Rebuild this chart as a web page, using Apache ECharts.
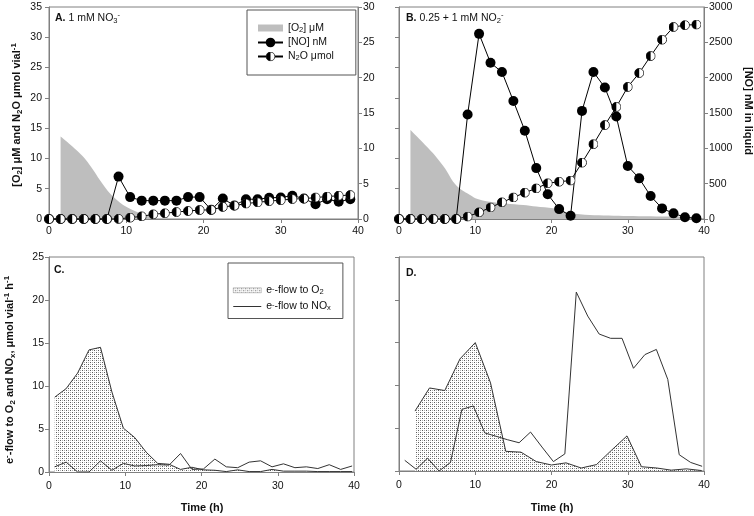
<!DOCTYPE html>
<html><head><meta charset="utf-8">
<script src="https://cdn.jsdelivr.net/npm/echarts@6/dist/echarts.min.js"></script>
<style>html,body{margin:0;padding:0;background:#fff}#c{width:754px;height:516px}</style>
</head><body><div id="c"></div>
<script>
// ---------- DATA ----------
// Panels A & B: sampling times (h)
const tAB = [0,1.5,3,4.5,6,7.5,9,10.5,12,13.5,15,16.5,18,19.5,21,22.5,24,25.5,27,28.5,30,31.5,33,34.5,36,37.5,39];
// Panel A
const A_O2_t = [1.5,3.0,4.4,5.5,6.6,7.9,9.6,11.8,13.1,14.4,16,40];
const A_O2   = [13.6,12.0,10.3,8.5,6.4,4.2,2.3,0.93,0.38,0.1,0.02,0];
const A_NO   = [0,0,0,0,0,0,6.0,3.1,2.6,2.6,2.6,2.6,3.1,3.1,1.3,2.9,1.9,2.8,2.8,3.0,3.05,3.3,2.9,2.1,2.8,2.45,2.8];
const A_N2O  = [0,0,0,0,0,0,0.02,0.22,0.44,0.77,0.95,1.15,1.32,1.48,1.5,2.0,2.2,2.55,2.75,2.95,3.1,3.3,3.35,3.55,3.7,3.85,3.95];
// Panel B
const B_O2_t = [1.5,3.0,4.5,6.0,7.1,8.0,9.0,10.1,11.9,14,16.3,18,20.2,21.5,22.4,25.0,30,36,39.5];
const B_O2   = [14.7,12.8,10.8,8.4,6.15,5.0,4.2,3.4,2.86,2.55,2.3,2.05,1.76,1.3,0.93,0.66,0.5,0.4,0.3];
const B_NO   = [0,0,0,0,0,0,1480,2620,2210,2080,1670,1250,720,350,140,45,1530,2080,1860,1450,750,575,325,150,80,25,10];
const B_N2O  = [0,0,0,0,0,0,0.4,1.1,1.9,2.75,3.55,4.35,5.05,5.9,6.15,6.35,9.3,12.35,15.5,18.5,21.8,24.1,26.9,29.6,31.7,32.0,32.1];
// Panel C
const C_t   = [0.75,2.25,3.75,5.25,6.75,8.25,9.75,11.25,12.75,14.25,15.75,17.25,18.75,20.25,21.75,23.25,24.75,26.25,27.75,29.25,30.75,32.25,33.75,35.25,36.75,38.25,39.75];
const C_O2  = [8.7,9.7,11.5,14.2,14.5,9.3,5.1,4.0,2.3,1.0,0.9,0.3,0.55,0.25,0.2,0.05,0.25,0.05,0.05,0.3,0.1,0.1,0.1,0.05,0.05,0.05,0.05];
const C_NOx = [0.6,1.15,0,0,1.3,0.2,1.0,0.7,0.75,0.85,0.8,2.15,0.3,0.35,1.5,0.6,0.5,1.15,1.3,0.6,0.95,0.5,0.6,0.4,0.85,0.3,0.7];
// Panel D
const D_O2_t = [2.1,4.0,6.0,8.0,10.0,12.0,14.0,16.0,18.0,20.0,21.9,23.9,25.9,27.9,29.9,31.8,33.8,35.7,37.7,39.7];
const D_O2   = [7.0,9.7,9.4,13.1,15.0,10.3,2.3,2.2,1.1,0.7,0.95,0.35,0.75,2.45,4.1,0.5,0.35,0.1,0.25,0.05];
const D_NOx_t = [0.75,2.25,3.75,5.25,6.75,8.25,9.75,11.25,12.75,14.25,15.75,17.25,18.75,20.25,21.75,23.25,24.75,26.25,27.75,29.25,30.75,32.25,33.75,35.25,36.75,38.25,39.75];
const D_NOx   = [1.25,0.2,1.5,0,1.0,7.2,7.6,4.45,4.05,3.65,3.3,4.55,2.8,1.1,2.0,20.9,18.1,16.0,15.5,15.5,12.0,13.6,14.2,10.7,1.9,1.0,0.55];
// Tick settings
const xTicks = {min:0, max:40, interval:10};
const yLeftAB = {min:0, max:35, interval:5};
const yRightA = {min:0, max:30, interval:5};
const yRightB = {min:0, max:3000, interval:500};
const yCD = {min:0, max:25, interval:5};

// ---------- HELPERS ----------
const FONT = "'Liberation Sans', Arial, sans-serif";
const pairs = (xs, ys) => xs.map((x, i) => [x, ys[i]]);
const AX = '#808080';
const TXT = '#111';

function richSet(size, weight) {
  const s = size * 0.72;
  return {
    n:   {fontSize: size, fontFamily: FONT, fontWeight: weight, lineHeight: 14, color: TXT},
    b:   {fontSize: size, fontFamily: FONT, fontWeight: 'bold', lineHeight: 14, color: TXT},
    sub: {fontSize: s, fontFamily: FONT, fontWeight: weight, lineHeight: 9, verticalAlign: 'bottom', color: TXT},
    sup: {fontSize: s, fontFamily: FONT, fontWeight: weight, lineHeight: 9, verticalAlign: 'top', color: TXT}
  };
}

const halfSvg = "<svg xmlns='http://www.w3.org/2000/svg' width='24' height='24' viewBox='0 0 24 24'>" +
  "<circle cx='12' cy='12' r='11' fill='#fff' stroke='#000' stroke-width='1.8'/>" +
  "<path d='M12 1 A11 11 0 0 0 12 23 Z' fill='#000'/></svg>";
const halfSym = 'image://data:image/svg+xml;charset=utf-8,' + encodeURIComponent(halfSvg);

// dotted (stipple) pattern
const pc = document.createElement('canvas');
pc.width = 4; pc.height = 4;
const pctx = pc.getContext('2d');
pctx.fillStyle = '#fff'; pctx.fillRect(0, 0, 4, 4);
pctx.fillStyle = '#5a5a5a';
pctx.fillRect(0, 0, 1, 1); pctx.fillRect(2, 2, 1, 1);
pctx.fillStyle = '#b0b0b0';
pctx.fillRect(2, 0, 1, 1); pctx.fillRect(0, 2, 1, 1);
const dotted = {image: pc, repeat: 'repeat'};

function xAxisCfg(grid, margin) {
  return Object.assign({type: 'value', gridIndex: grid, position: 'bottom',
    axisLine: {show: true, lineStyle: {color: AX, width: 1}},
    axisTick: {show: true, inside: false, length: 4, lineStyle: {color: AX}},
    axisLabel: {show: true, margin: margin, fontSize: 10.5, fontFamily: FONT, color: TXT},
    splitLine: {show: false}}, xTicks);
}
function yAxisCfg(grid, ticks, pos, showLabel, margin) {
  return Object.assign({type: 'value', gridIndex: grid, position: pos,
    axisLine: {show: true, onZero: false, lineStyle: {color: AX, width: 1}},
    axisTick: {show: true, inside: false, length: 4, lineStyle: {color: AX}},
    axisLabel: {show: showLabel, margin: margin, fontSize: 10.5, fontFamily: FONT, color: TXT,
      formatter: v => String(v)},
    splitLine: {show: false}}, ticks);
}

const gridBase = {show: true, borderColor: AX, borderWidth: 1, backgroundColor: 'transparent'};

const legendRich = richSet(10.5, 'normal');
const legendNames = {
  O2A: '[O{sub|2}] μM',
  NOA: '[NO] nM',
  N2OA: 'N{sub|2}O μmol',
  O2C: 'e{sup|-}-flow to O{sub|2}',
  NOxC: 'e{sup|-}-flow to NO{sub|x}'
};

function txt(x, y, text, rot, size, weight, align) {
  return {type: 'text', x: x, y: y, rotation: rot || 0, silent: true,
    style: {text: text, fontSize: size, fontFamily: FONT, fontWeight: weight, fill: TXT,
      lineHeight: 14, align: align || 'center', verticalAlign: 'middle',
      textAlign: align || 'center', textVerticalAlign: 'middle',
      rich: richSet(size, weight)}};
}

const option = {
  animation: false,
  backgroundColor: '#fff',
  grid: [
    Object.assign({left: 49, top: 7, width: 309, height: 212}, gridBase),
    Object.assign({left: 399, top: 7, width: 305, height: 212}, gridBase),
    Object.assign({left: 49, top: 257, width: 305, height: 215}, gridBase),
    Object.assign({left: 399, top: 257, width: 305, height: 214}, gridBase)
  ],
  xAxis: [xAxisCfg(0, 7), xAxisCfg(1, 7), xAxisCfg(2, 9), xAxisCfg(3, 9)],
  yAxis: [
    yAxisCfg(0, yLeftAB, 'left', true, 7),
    yAxisCfg(0, yRightA, 'right', true, 5),
    yAxisCfg(1, yLeftAB, 'left', false, 7),
    yAxisCfg(1, yRightB, 'right', true, 5),
    yAxisCfg(2, yCD, 'left', true, 5),
    yAxisCfg(3, yCD, 'left', false, 5)
  ],
  legend: [
    {data: [{name: 'O2A', icon: 'path://M0,0 M0,2.5 L25,2.5 L25,9.5 L0,9.5 Z M25,12', itemStyle: {color: '#bebebe', borderWidth: 0}}, 'NOA', 'N2OA'],
     orient: 'vertical', left: 247, top: 10, itemWidth: 25, itemHeight: 12, itemGap: 3,
     padding: [12, 22, 13, 10], borderColor: '#555', borderWidth: 1, backgroundColor: '#fff',
     selectedMode: false, formatter: n => legendNames[n],
     textStyle: {fontSize: 10.5, fontFamily: FONT, color: TXT, rich: legendRich}},
    {data: [{name: 'O2C', icon: 'path://M0,0 M0,3.5 L28,3.5 L28,8.5 L0,8.5 Z M28,12', itemStyle: {color: dotted, borderColor: '#999', borderWidth: 0.5}},
            {name: 'NOxC', icon: 'path://M0,0 M0,5.5 L28,5.5 L28,6.5 L0,6.5 Z M28,12', itemStyle: {color: '#333', borderWidth: 0}}],
     orient: 'vertical', left: 228, top: 263, itemWidth: 28, itemHeight: 12, itemGap: 4,
     padding: [21, 12, 6, 5], borderColor: '#555', borderWidth: 1, backgroundColor: '#fff',
     selectedMode: false, formatter: n => legendNames[n],
     textStyle: {fontSize: 10.5, fontFamily: FONT, color: TXT, rich: legendRich}}
  ],
  series: [
    // Panel A
    {name: 'O2A', type: 'line', xAxisIndex: 0, yAxisIndex: 0, data: pairs(A_O2_t, A_O2),
     smooth: 0.3, symbol: 'none', color: '#bebebe',
     lineStyle: {width: 0, color: '#bebebe'}, areaStyle: {color: '#bebebe', opacity: 1}, z: 1},
    {name: 'NOA', type: 'line', xAxisIndex: 0, yAxisIndex: 1, data: pairs(tAB, A_NO),
     symbol: 'circle', symbolSize: 10, showAllSymbol: true, clip: false, color: '#000',
     itemStyle: {color: '#000'}, lineStyle: {color: '#000', width: 1}, z: 3},
    {name: 'N2OA', type: 'line', xAxisIndex: 0, yAxisIndex: 0, data: pairs(tAB, A_N2O),
     symbol: halfSym, symbolSize: 10, showAllSymbol: true, clip: false, color: '#000',
     itemStyle: {color: '#000'}, lineStyle: {color: '#000', width: 1}, z: 4},
    // Panel B
    {name: 'O2B', type: 'line', xAxisIndex: 1, yAxisIndex: 2, data: pairs(B_O2_t, B_O2),
     smooth: 0.3, symbol: 'none', color: '#bebebe',
     lineStyle: {width: 0, color: '#bebebe'}, areaStyle: {color: '#bebebe', opacity: 1}, z: 1},
    {name: 'NOB', type: 'line', xAxisIndex: 1, yAxisIndex: 3, data: pairs(tAB, B_NO),
     symbol: 'circle', symbolSize: 10, showAllSymbol: true, clip: false, color: '#000',
     itemStyle: {color: '#000'}, lineStyle: {color: '#000', width: 1}, z: 3},
    {name: 'N2OB', type: 'line', xAxisIndex: 1, yAxisIndex: 2, data: pairs(tAB, B_N2O),
     symbol: halfSym, symbolSize: 10, showAllSymbol: true, clip: false, color: '#000',
     itemStyle: {color: '#000'}, lineStyle: {color: '#000', width: 1}, z: 4},
    // Panel C
    {name: 'O2C', type: 'line', xAxisIndex: 2, yAxisIndex: 4, data: pairs(C_t, C_O2),
     symbol: 'none', color: '#333', lineStyle: {color: '#333', width: 1},
     areaStyle: {color: dotted, opacity: 1}, z: 2},
    {name: 'NOxC', type: 'line', xAxisIndex: 2, yAxisIndex: 4, data: pairs(C_t, C_NOx),
     symbol: 'none', color: '#333', lineStyle: {color: '#333', width: 1}, z: 3},
    // Panel D
    {name: 'O2D', type: 'line', xAxisIndex: 3, yAxisIndex: 5, data: pairs(D_O2_t, D_O2),
     symbol: 'none', color: '#333', lineStyle: {color: '#333', width: 1},
     areaStyle: {color: dotted, opacity: 1}, z: 2},
    {name: 'NOxD', type: 'line', xAxisIndex: 3, yAxisIndex: 5, data: pairs(D_NOx_t, D_NOx),
     symbol: 'none', color: '#333', lineStyle: {color: '#333', width: 1}, z: 3}
  ],
  graphic: [
    txt(55, 18, '{b|A.} 1 mM NO{sub|3}{sup|-}', 0, 10.5, 'normal', 'left'),
    txt(406, 18, '{b|B.} 0.25 + 1 mM NO{sub|2}{sup|-}', 0, 10.5, 'normal', 'left'),
    txt(54, 270, 'C.', 0, 10.5, 'bold', 'left'),
    txt(406, 273, 'D.', 0, 10.5, 'bold', 'left'),
    txt(17, 115, '[O{sub|2}] μM and N{sub|2}O μmol vial{sup|-1}', Math.PI / 2, 11, 'bold', 'center'),
    txt(748, 111, '[NO] nM in liquid', -Math.PI / 2, 11, 'bold', 'center'),
    txt(10, 370, 'e{sup|-}-flow to O{sub|2} and NO{sub|x}, μmol vial{sup|-1} h{sup|-1}', Math.PI / 2, 11, 'bold', 'center'),
    txt(202, 508, 'Time (h)', 0, 11, 'bold', 'center'),
    txt(552, 508, 'Time (h)', 0, 11, 'bold', 'center')
  ]
};

const chart = echarts.init(document.getElementById('c'), null, {renderer: 'canvas'});
chart.setOption(option);
</script>
</body></html>
